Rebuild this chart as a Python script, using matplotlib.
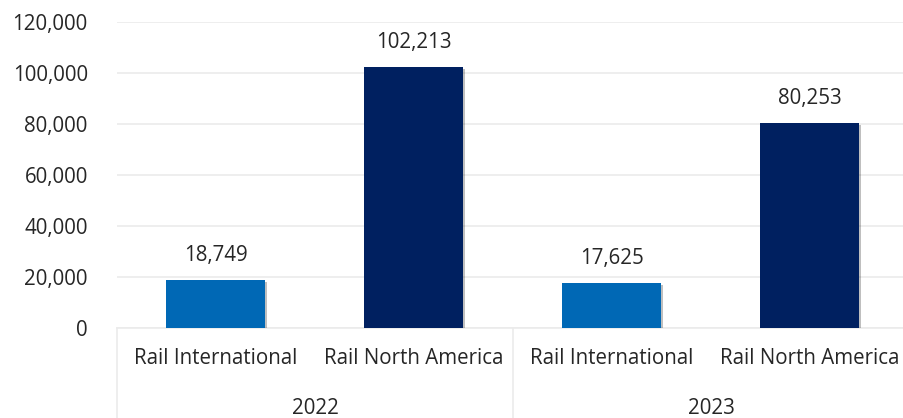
import matplotlib.pyplot as plt
import matplotlib.patheffects as pe
from matplotlib.ticker import FuncFormatter

years = ['2022', '2023']
segments = ['Rail International', 'Rail North America']
values = [18749, 102213, 17625, 80253]
bar_colors = ['#0068B5', '#002060', '#0068B5', '#002060']

plt.rcParams['font.family'] = ['Open Sans', 'DejaVu Sans']

W, H = 904, 418
fs = 14.8
txt_color = '#262626'
fig = plt.figure(figsize=(W / 100, H / 100), dpi=100)
ax = fig.add_axes([117 / W, 90 / H, 792 / W, 306 / H])

n = len(values)
x = list(range(n))
bars = ax.bar(x, values, width=0.5, color=bar_colors, zorder=3)
for b in bars:
    b.set_path_effects([pe.SimplePatchShadow(offset=(1.2, -1.2), shadow_rgbFace='#000000', alpha=0.25),
                        pe.Normal()])
ax.set_xlim(-0.5, n - 0.5)
ax.set_ylim(0, 120000)
ax.set_yticks(range(0, 120001, 20000))
ax.yaxis.set_major_formatter(FuncFormatter(lambda v, p: '{:,.0f}'.format(v)))
ax.tick_params(axis='y', length=0, pad=21, labelsize=fs, labelcolor=txt_color)
ax.grid(axis='y', color='#ebebeb', linewidth=1.2, zorder=0)
ax.set_xticks([])
for s in ['top', 'right', 'left']:
    ax.spines[s].set_visible(False)
ax.spines['bottom'].set_color('#ebebeb')
ax.spines['bottom'].set_linewidth(1.2)

for xi, v in zip(x, values):
    ax.annotate('{:,}'.format(v), (xi, v), xytext=(0, 18), textcoords='offset points',
                ha='center', va='center', fontsize=fs, color=txt_color)

# multi-level category axis
trans = ax.get_xaxis_transform()
for i, xi in enumerate(x):
    ax.text(xi, -31 / 306, segments[i % len(segments)], transform=trans,
            ha='center', va='center', fontsize=fs, color=txt_color)
for j, yr in enumerate(years):
    ax.text(j * 2 + 0.5, -80 / 306, yr, transform=trans,
            ha='center', va='center', fontsize=fs, color=txt_color)
for sep in [-0.5, 1.5, 3.5]:
    ax.plot([sep, sep], [0, -100 / 306], transform=trans, color='#ebebeb',
            linewidth=1.2, clip_on=False)

fig.savefig('out.png', dpi=100)
